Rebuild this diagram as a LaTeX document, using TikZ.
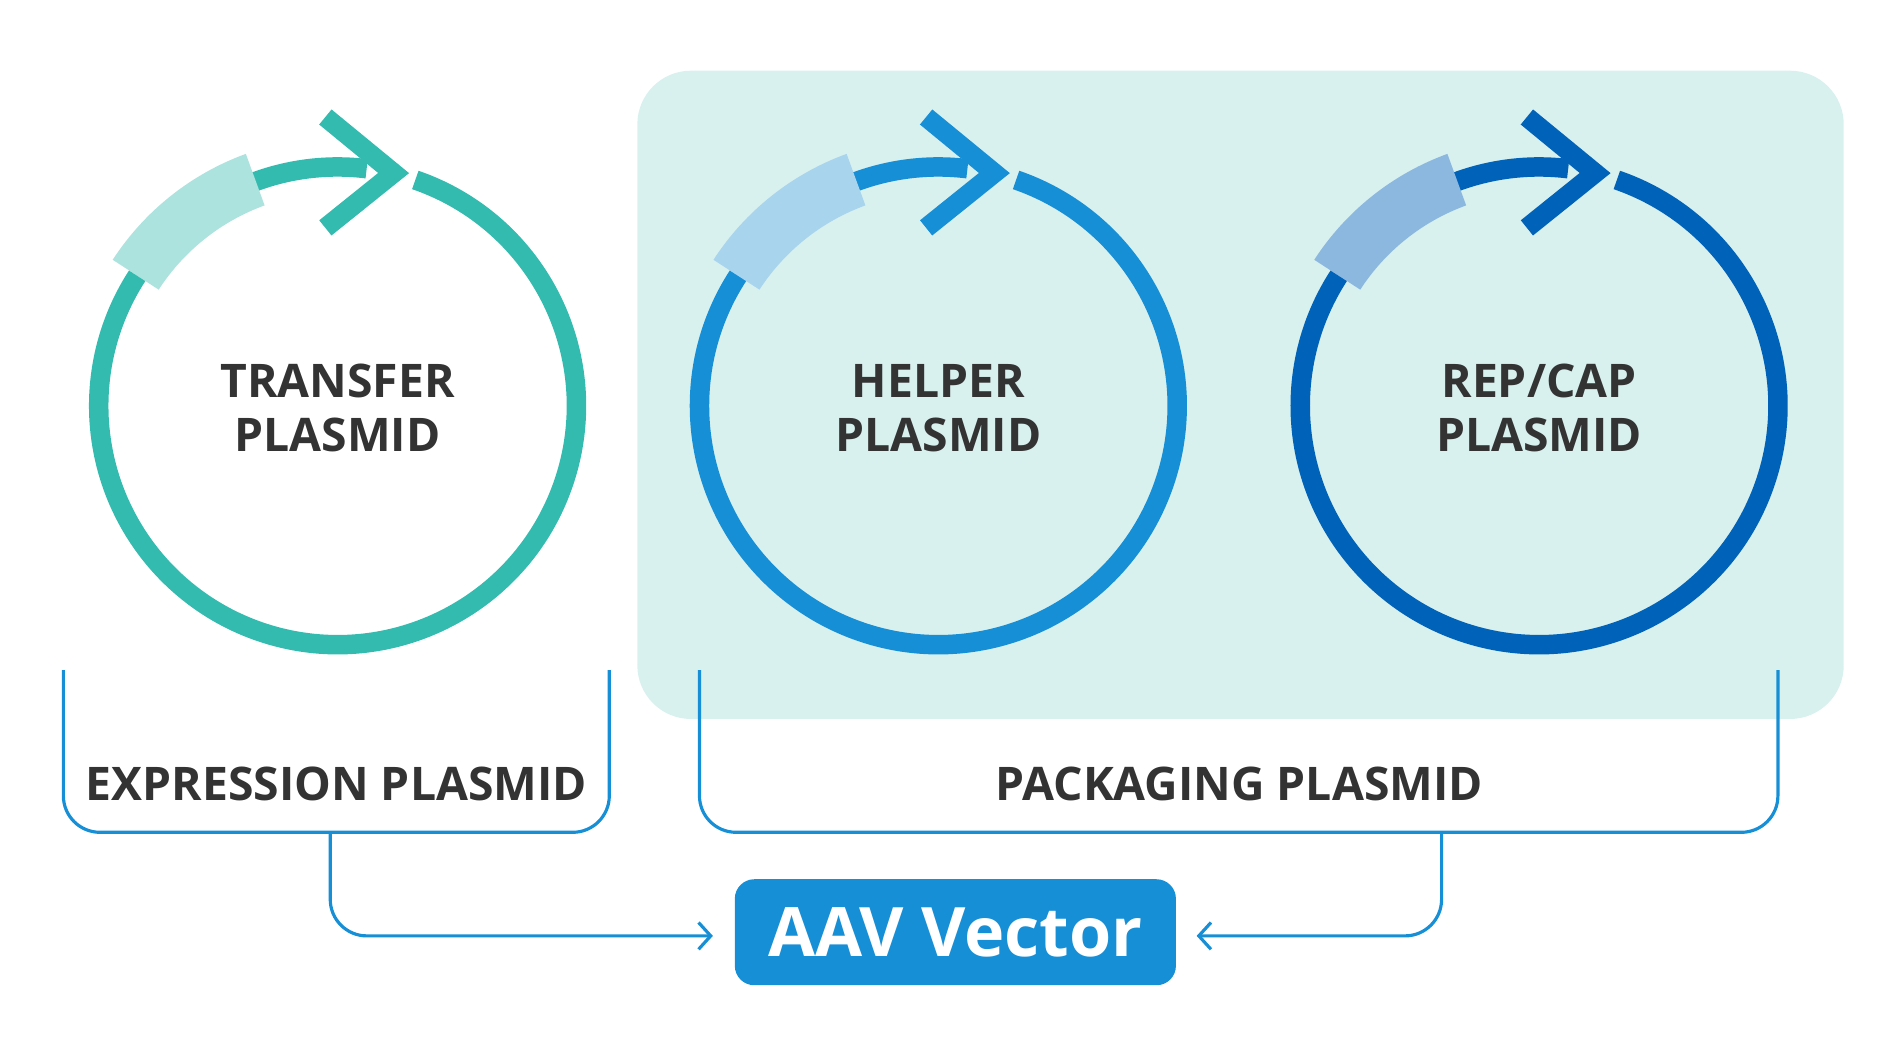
\documentclass[tikz,border=0pt]{standalone}
\usepackage{fontspec}
\setmainfont{Open Sans}
\usetikzlibrary{arrows.meta}
\definecolor{teal}{HTML}{34BBB0}
\definecolor{lteal}{HTML}{ADE3DE}
\definecolor{blu}{HTML}{168FD6}
\definecolor{lblu}{HTML}{A8D4EE}
\definecolor{dblu}{HTML}{0062B8}
\definecolor{ldblu}{HTML}{8CB8E0}
\definecolor{panel}{HTML}{D8F1EE}
\definecolor{txt}{HTML}{333333}
\begin{document}
\begin{tikzpicture}[x=0.5pt,y=-0.5pt,
  lbl/.style={text=txt,font=\fontsize{19}{22}\selectfont\bfseries,align=center},
  brk/.style={draw=blu,line width=1.3pt,rounded corners=15pt},
  conn/.style={brk,-{Straight Barb[length=5pt,width=11pt,line width=1.3pt]}}]
\useasboundingbox (0,0) rectangle (1560,864);
\fill[panel,rounded corners=22pt] (523,58) rectangle (1513,590);
\foreach \cx/\c/\lc/\name/\t in {277/teal/lteal/p1/TRANSFER, 770/blu/lblu/p2/HELPER, 1263/dblu/ldblu/p3/REP\slash CAP}{
  \draw[\c,line width=8pt] (\cx,333)+(-71:196) arc[start angle=-71,end angle=213,radius=196];
  \draw[\c,line width=8pt] (\cx,333)+(-147:196) arc[start angle=-147,end angle=-83,radius=196];
  \fill[\lc] (\cx,333)+(-110:220) arc[start angle=-110,end angle=-147,radius=220]
     -- ++(-147:-45) arc[start angle=-147,end angle=-110,radius=175] -- cycle;
  \draw[\c,line width=8pt,miter limit=10] (\cx-10,96) -- (\cx+46,142) -- (\cx-10,187);
  \node[lbl] (\name) at (\cx,335) {\t\\PLASMID};
}
\node[lbl] (exp) at (276,643) {EXPRESSION PLASMID};
\node[lbl] (pack) at (1017,643) {PACKAGING PLASMID};
\node[fill=blu,rounded corners=8pt,minimum width=181pt,minimum height=43.5pt,text=white,
  font=\fontsize{28}{32}\selectfont\bfseries] (aav) at (784,765) {AAV Vector};
\draw[brk] (52,550) -- (52,683) -- (500,683) -- (500,550);
\draw[brk] (574,550) -- (574,683) -- (1459,683) -- (1459,550);
\coordinate (e1) at (271,683);
\coordinate (e2) at (1183,683);
\coordinate (a1) at (585,768);
\coordinate (a2) at (982,768);
\draw[conn] (e1) |- (a1);
\draw[conn] (e2) |- (a2);
\end{tikzpicture}
\end{document}
